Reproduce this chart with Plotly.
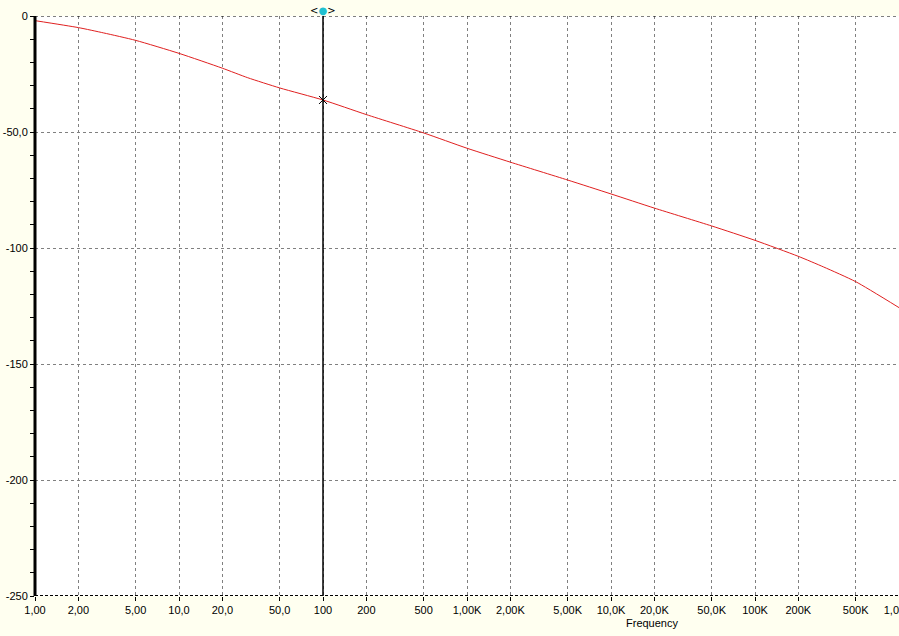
import plotly.graph_objects as go

freq = [1, 2, 3, 5, 10, 20, 30, 50, 100, 200, 500, 1e3, 2e3, 5e3, 1e4, 2e4, 5e4, 1e5, 2e5, 3e5, 5e5, 1e6]
gain_db = [-2.0, -5.0, -7.3, -10.5, -16.1, -22.5, -26.6, -31.0, -36.2, -42.5, -50.4, -57.0, -63.0,
           -70.7, -76.7, -82.8, -90.5, -96.7, -103.6, -108.2, -114.5, -125.7]

x_tickvals = [1, 2, 5, 10, 20, 50, 100, 200, 500, 1e3, 2e3, 5e3, 1e4, 2e4, 5e4, 1e5, 2e5, 5e5, 1e6]
x_ticktext = ["1,00", "2,00", "5,00", "10,0", "20,0", "50,0", "100", "200", "500",
              "1,00K", "2,00K", "5,00K", "10,0K", "20,0K", "50,0K", "100K", "200K", "500K", "1,00M"]
y_tickvals = [0, -50, -100, -150, -200, -250]
y_ticktext = ["0", "-50,0", "-100", "-150", "-200", "-250"]

cursor_freq = 100
cursor_db = -36.2

BG = "#FFFFF0"
FONT = "Liberation Sans"
PLOT_L, PLOT_T, PLOT_W, PLOT_H = 35, 16, 864, 580

fig = go.Figure()

fig.add_trace(go.Scatter(x=freq, y=gain_db, mode="lines",
                         line=dict(color="#E02020", width=1, shape="spline", smoothing=0.6),
                         hoverinfo="skip"))

# cursor line
fig.add_trace(go.Scatter(x=[cursor_freq, cursor_freq], y=[0, -250], mode="lines",
                         line=dict(color="black", width=1.5), hoverinfo="skip"))
# cursor intersection marker
fig.add_trace(go.Scatter(x=[cursor_freq], y=[cursor_db], mode="markers",
                         marker=dict(symbol="x-thin", size=8, line=dict(color="black", width=1)),
                         hoverinfo="skip"))

# cursor handle above plot
fig.add_annotation(x=2, xref="x", y=1 + 6 / PLOT_H, yref="paper", yanchor="middle",
                   text="&lt;<span style='color:#20C0D0'>●</span>&gt;", showarrow=False,
                   font=dict(family="DejaVu Sans", size=10, color="black"))

# axis frame lines
fig.add_shape(type="line", xref="paper", yref="y", x0=0, x1=1, y0=-250, y1=-250,
              line=dict(color="black", width=2, dash="3px,2px"))
fig.add_shape(type="line", xref="paper", yref="y", x0=0, x1=1, y0=0, y1=0,
              line=dict(color="black", width=1, dash="3px,3px"))
fig.add_shape(type="line", xref="paper", yref="paper", x0=0, x1=0, y0=0, y1=1,
              line=dict(color="black", width=3))

fig.add_annotation(x=(680 - PLOT_L) / PLOT_W, y=-(623 - 596) / PLOT_H, xref="paper", yref="paper",
                   text="Frequency", showarrow=False, yanchor="middle",
                   font=dict(family=FONT, size=11, color="black"))

fig.update_xaxes(type="log", range=[0, 6], tickmode="array", tickvals=x_tickvals,
                 ticktext=x_ticktext, showgrid=True, gridcolor="#808080", griddash="3px,3px",
                 gridwidth=1, ticks="outside", ticklen=4, tickcolor="black",
                 ticklabeloverflow="allow", zeroline=False, showline=False, automargin=False,
                 tickfont=dict(family=FONT, size=11, color="black"))
fig.update_yaxes(range=[-250, 0], tickmode="array", tickvals=y_tickvals, ticktext=y_ticktext,
                 showgrid=True, gridcolor="#808080", griddash="3px,3px", gridwidth=1,
                 ticks="outside", ticklen=4, tickcolor="black", zeroline=False, showline=False,
                 automargin=False, ticklabelstandoff=0,
                 minor=dict(tickmode="linear", tick0=0, dtick=10, ticks="outside", ticklen=4,
                            tickcolor="black", showgrid=False),
                 tickfont=dict(family=FONT, size=11, color="black"))

fig.update_layout(width=899, height=636, showlegend=False,
                  margin=dict(l=PLOT_L, r=0, t=PLOT_T, b=636 - PLOT_T - PLOT_H, autoexpand=False),
                  paper_bgcolor=BG, plot_bgcolor="white")

fig.write_html("out.html", config={"displayModeBar": False},
               post_script="document.body.style.margin='0';document.body.style.background='#FFFFF0';")
